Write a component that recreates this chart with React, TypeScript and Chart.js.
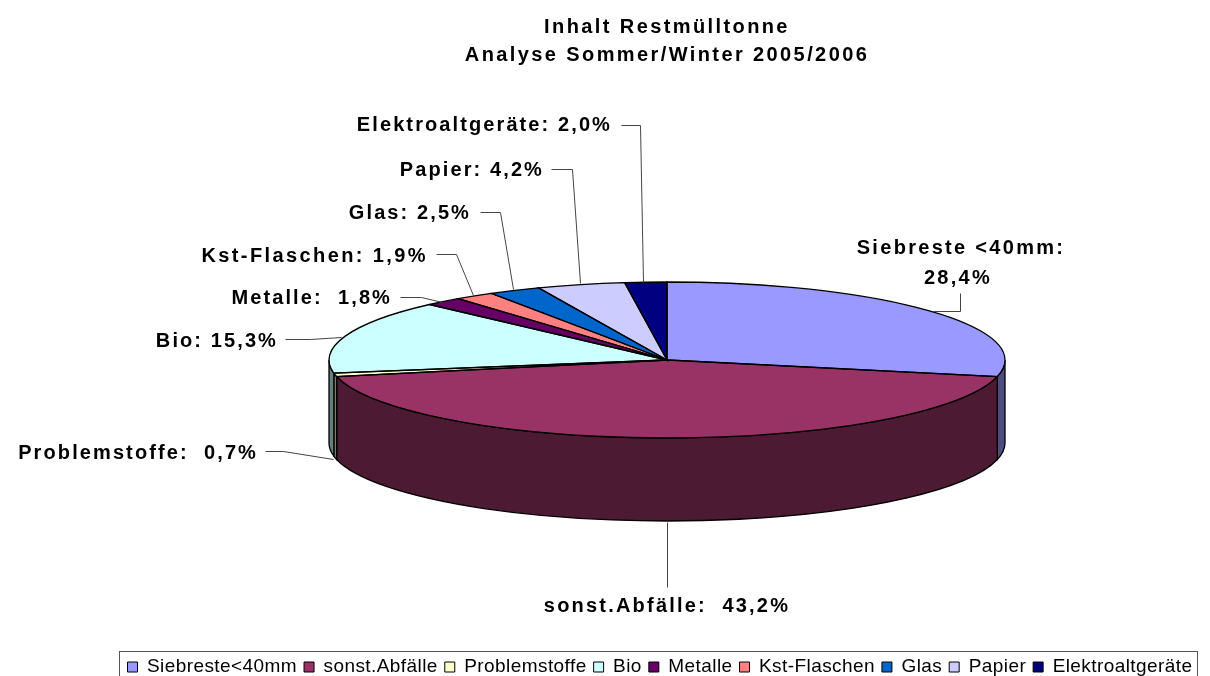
import React, { useEffect, useRef } from "react";
import { Chart, registerables } from "chart.js";

Chart.register(...registerables);

const categories = ["Siebreste<40mm", "sonst.Abfälle", "Problemstoffe", "Bio", "Metalle", "Kst-Flaschen", "Glas", "Papier", "Elektroaltgeräte"];
const calloutNames = ["Siebreste <40mm:", "sonst.Abfälle: ", "Problemstoffe: ", "Bio:", "Metalle: ", "Kst-Flaschen:", "Glas:", "Papier:", "Elektroaltgeräte:"];
const values = [28.4, 43.2, 0.7, 15.3, 1.8, 1.9, 2.5, 4.2, 2.0];
const topColors = ["#9999FF", "#993366", "#FFFFCC", "#CCFFFF", "#660066", "#FF8080", "#0066CC", "#CCCCFF", "#000080"];
const wallColors = ["#4D4D80", "#4D1A33", "#808066", "#668080", "#330033", "#804040", "#003366", "#666680", "#000040"];
const titleLines = ["Inhalt Restmülltonne", "Analyse Sommer/Winter 2005/2006"];

const WIDTH = 1210;
const HEIGHT = 676;
const CX = 667;
const CY = 360;
const RX = 338;
const RY = 78;
const DEPTH = 83;

type Callout = { x: number; y: number; align: CanvasTextAlign; line: [number, number][]; twoLine?: boolean; spacing?: string };
const callouts: Callout[] = [
  { x: 961, y: 248, align: "center", twoLine: true, spacing: "2.3px", line: [[932, 311], [960, 311], [960, 293]] },
  { x: 667, y: 606, align: "center", spacing: "2.2px", line: [[667, 522], [667, 587]] },
  { x: 258, y: 453, align: "right", line: [[265, 451], [283, 451], [333, 459]] },
  { x: 278, y: 341, align: "right", line: [[285, 339], [310, 339], [341, 337]] },
  { x: 392, y: 298, align: "right", line: [[400, 297], [421, 297], [442, 302]] },
  { x: 428, y: 256, align: "right", spacing: "2.4px", line: [[436, 254], [456, 254], [473, 295]] },
  { x: 471, y: 213, align: "right", line: [[480, 212], [500, 212], [513, 289]] },
  { x: 544, y: 170, align: "right", line: [[551, 169], [572, 169], [580, 283]] },
  { x: 612, y: 125, align: "right", line: [[621, 125], [640, 125], [643, 282]] },
];

function spaced(chart: any, box: any, spacing: string) {
  ["fit", "draw"].forEach((m) => {
    const orig = box[m];
    box[m] = function (...args: any[]) {
      const c = chart.ctx;
      const prev = c.letterSpacing;
      c.letterSpacing = spacing;
      const r = orig.apply(this, args);
      c.letterSpacing = prev;
      return r;
    };
  });
}

const pie3d = {
  id: "pie3d",
  beforeLayout(chart: any) {
    if (chart.$spaced) return;
    chart.$spaced = true;
    spaced(chart, chart.titleBlock, "2.4px");
    spaced(chart, chart.legend, "0.42px");
  },
  afterLayout(chart: any) {
    const lg = chart.legend;
    lg.right = 1210;
    lg.left = 1 + 2 * 127 - lg.options.labels.padding + lg.lineWidths[0] - lg.right;
    lg.top = 667 - 9.5 - lg.options.labels.padding;
  },
  beforeDatasetsDraw(chart: any) {
    const ctx = chart.ctx;
    const arcs = chart.getDatasetMeta(0).data;
    ctx.save();
    ctx.strokeStyle = "#000";
    ctx.lineWidth = 1.3;
    arcs.forEach((arc: any, i: number) => {
      const a0 = Math.max(arc.startAngle, 0);
      const a1 = Math.min(arc.endAngle, Math.PI);
      if (a1 <= a0) return;
      ctx.beginPath();
      ctx.ellipse(CX, CY, RX, RY, 0, a0, a1);
      ctx.lineTo(CX + RX * Math.cos(a1), CY + RY * Math.sin(a1) + DEPTH);
      ctx.ellipse(CX, CY + DEPTH, RX, RY, 0, a1, a0, true);
      ctx.closePath();
      ctx.fillStyle = wallColors[i];
      ctx.fill();
      ctx.stroke();
    });
    ctx.restore();
    const first = arcs[0];
    ctx.save();
    ctx.translate(CX, CY);
    ctx.scale(1, RY / RX);
    ctx.translate(-first.x, -first.y);
  },
  afterDatasetsDraw(chart: any) {
    const ctx = chart.ctx;
    ctx.restore();
    ctx.save();
    ctx.strokeStyle = "#000";
    ctx.lineWidth = 1.3;
    chart.getDatasetMeta(0).data.forEach((arc: any) => {
      ctx.beginPath();
      ctx.moveTo(CX, CY);
      ctx.ellipse(CX, CY, RX, RY, 0, arc.startAngle, arc.endAngle);
      ctx.closePath();
      ctx.stroke();
    });
    // legend frame: its lower edge falls outside the page
    ctx.strokeStyle = "#555";
    ctx.lineWidth = 1;
    ctx.strokeRect(119.5, 651.5, 1078, 40);
    // callouts
    ctx.font = "bold 20px 'Liberation Sans'";
    ctx.fillStyle = "#000";
    ctx.textBaseline = "middle";
    callouts.forEach((c, i) => {
      ctx.letterSpacing = c.spacing ?? "2.1px";
      ctx.strokeStyle = "#444";
      ctx.lineWidth = 1;
      ctx.beginPath();
      c.line.forEach(([x, y], k) => (k ? ctx.lineTo(x + 0.5, y + 0.5) : ctx.moveTo(x + 0.5, y + 0.5)));
      ctx.stroke();
      ctx.textAlign = c.align;
      const pct = values[i].toFixed(1).replace(".", ",") + "%";
      if (c.twoLine) {
        ctx.fillText(calloutNames[i], c.x, c.y);
        ctx.fillText(pct, c.x - 3, c.y + 30);
      } else {
        ctx.fillText(calloutNames[i] + " " + pct, c.x, c.y);
      }
    });
    ctx.restore();
  },
};

export default function App() {
  const ref = useRef<HTMLCanvasElement>(null);
  useEffect(() => {
    document.body.style.margin = "0";
    const chart = new Chart(ref.current!, {
      type: "pie",
      data: {
        labels: categories,
        datasets: [{ data: values, backgroundColor: topColors, borderColor: "#000", borderWidth: 0, radius: RX }],
      },
      options: {
        responsive: false,
        animation: false,
        layout: { padding: { left: 124 } },
        plugins: {
          tooltip: { enabled: false },
          title: {
            display: true,
            text: titleLines,
            color: "#000",
            font: { family: "'Liberation Sans'", size: 20, weight: "bold", lineHeight: 1.4 },
            padding: { top: 13, bottom: 10 },
            align: "center",
          },
          legend: {
            display: true,
            position: "bottom",
            labels: {
              color: "#000",
              font: { family: "'Liberation Sans'", size: 19 },
              boxWidth: 10,
              boxHeight: 10,
              padding: 7,
              generateLabels: () =>
                categories.map((text, i) => ({
                  text,
                  fillStyle: topColors[i],
                  strokeStyle: "#000",
                  lineWidth: 1,
                  fontColor: "#000",
                  index: i,
                })),
            },
          },
        },
      },
      plugins: [pie3d],
    } as any);
    return () => chart.destroy();
  }, []);
  return (
    <div style={{ position: "fixed", left: 0, top: 0, width: WIDTH, height: HEIGHT, overflow: "hidden", background: "#fff" }}>
      <canvas ref={ref} width={WIDTH} height={HEIGHT} style={{ display: "block" }} />
    </div>
  );
}
